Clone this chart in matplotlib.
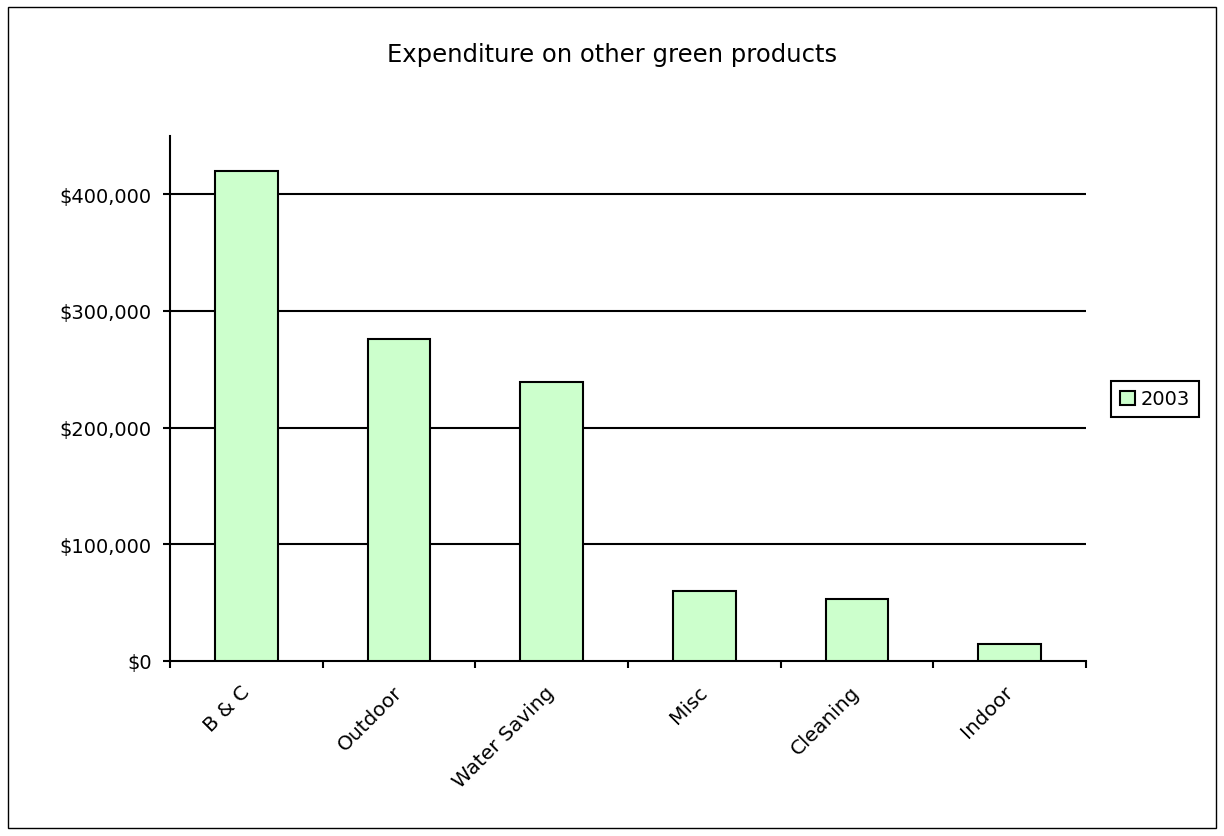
import numpy as np
import matplotlib.pyplot as plt
from matplotlib.patches import Rectangle
from matplotlib.ticker import FuncFormatter
import matplotlib.transforms as mtransforms

categories = ["B & C", "Outdoor", "Water Saving", "Misc", "Cleaning", "Indoor"]
values_2003 = [420000, 276000, 239000, 60000, 53000, 15000]
yticks = [0, 100000, 200000, 300000, 400000]

plt.rcParams['font.family'] = ['DejaVu Sans']

fig = plt.figure(figsize=(12.24, 8.37), dpi=100)
ax = fig.add_axes([170 / 1224, 1 - 662 / 837, (1086 - 170) / 1224, (662 - 137) / 837])

x = np.arange(len(categories))
ax.bar(x, values_2003, width=0.41, color='#ccffcc', edgecolor='black', linewidth=1.5,
       label='2003', zorder=3)

ax.set_xlim(-0.5, len(categories) - 0.5)
ax.set_ylim(0, 450000)
ax.set_yticks(yticks)
ax.yaxis.set_major_formatter(FuncFormatter(lambda v, p: "${:,.0f}".format(v)))
for t in yticks[1:]:
    ax.axhline(t, color='black', linewidth=1.5, zorder=1)

ax.set_xticks(x)
ax.set_xticklabels(categories, rotation=45, ha='right', va='center', rotation_mode='anchor',
                   fontsize=14.5)
shift = mtransforms.ScaledTranslation(-8 / 100, 0, fig.dpi_scale_trans)
for lbl in ax.get_xticklabels():
    lbl.set_transform(lbl.get_transform() + shift)
ax.set_xticks(np.arange(len(categories) + 1) - 0.5, minor=True)
ax.tick_params(axis='x', which='major', length=0, pad=20)
ax.tick_params(axis='x', which='minor', length=5, width=1.5, direction='out')
ax.tick_params(axis='y', length=5, width=1.5, direction='out', labelsize=14, pad=8)

for side in ['top', 'right']:
    ax.spines[side].set_visible(False)
for side in ['left', 'bottom']:
    ax.spines[side].set_linewidth(1.5)

fig.text(0.5, 1 - 55 / 837, "Expenditure on other green products", ha='center', va='center',
         fontsize=17.5)

leg = ax.legend(loc='center', bbox_to_anchor=(1155 / 1224, 1 - 400 / 837),
                bbox_transform=fig.transFigure, fontsize=14, frameon=True, fancybox=False,
                framealpha=1, handlelength=0.75, handleheight=0.75, handletextpad=0.3,
                borderpad=0.45, borderaxespad=0)
leg.get_frame().set_edgecolor('black')
leg.get_frame().set_linewidth(1.5)

fig.patches.append(Rectangle((8 / 1224, 8 / 837), 1208 / 1224, 821 / 837, transform=fig.transFigure,
                             fill=False, edgecolor='black', linewidth=1))

fig.savefig('out.png', dpi=100)
